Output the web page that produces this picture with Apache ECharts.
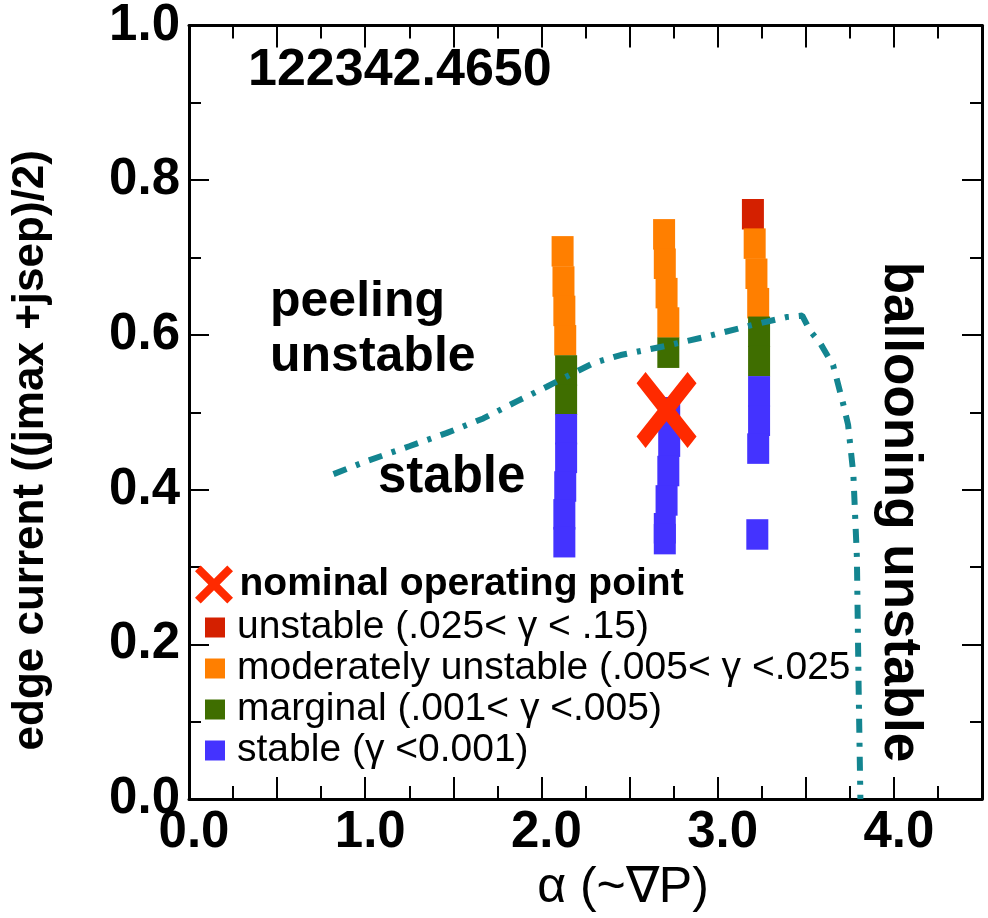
<!DOCTYPE html>
<html>
<head>
<meta charset="utf-8">
<script src="https://cdn.jsdelivr.net/npm/echarts@6/dist/echarts.min.js"></script>
<style>
html,body{margin:0;padding:0;background:#fff;}
#chart{width:988px;height:918px;}
</style>
</head>
<body>
<div id="chart"></div>
<script>
// ---- data ----
const seriesNames = [
  'nominal operating point',
  'unstable (.025< γ < .15)',
  'moderately unstable (.005< γ <.025',
  'marginal (.001< γ <.005)',
  'stable (γ <0.001)'
];
const nominalPoint = [[2.71, 0.503]];
const unstablePts = [[3.20, 0.756]];
const moderatePts = [
  [2.12, 0.708], [2.125, 0.669], [2.13, 0.631], [2.135, 0.593],
  [2.696, 0.730], [2.70, 0.692], [2.71, 0.654], [2.72, 0.616],
  [3.21, 0.718], [3.22, 0.679], [3.23, 0.641]
];
const marginalPts = [
  [2.14, 0.554], [2.14, 0.516],
  [2.72, 0.577],
  [3.235, 0.604], [3.235, 0.566]
];
const stablePts = [
  [2.14, 0.478], [2.14, 0.441], [2.135, 0.404], [2.13, 0.368], [2.13, 0.332],
  [2.725, 0.500], [2.725, 0.462], [2.72, 0.424], [2.71, 0.386], [2.70, 0.350], [2.70, 0.336],
  [3.235, 0.527], [3.235, 0.489], [3.23, 0.453],
  [3.225, 0.342]
];
const boundaryPts = [
  [0.82, 0.420], [1.01, 0.437], [1.25, 0.456], [1.46, 0.473], [1.67, 0.492],
  [1.86, 0.514], [2.03, 0.533], [2.15, 0.547], [2.30, 0.564], [2.45, 0.574],
  [2.71, 0.586], [2.94, 0.598], [3.20, 0.613], [3.39, 0.623], [3.48, 0.625],
  [3.525, 0.605], [3.58, 0.590], [3.655, 0.561], [3.71, 0.513], [3.74, 0.484],
  [3.77, 0.420], [3.79, 0.313], [3.80, 0.143], [3.81, 0.0]
];
const xTickLabels = ['0.0', '1.0', '2.0', '3.0', '4.0'];
const yTickLabels = ['0.0', '0.2', '0.4', '0.6', '0.8', '1.0'];
const shotLabel = '122342.4650';
const regionLabels = ['peeling', 'unstable', 'stable', 'ballooning unstable'];
const xTitle = 'α (~∇P)';
const yTitle = 'edge current ((jmax +jsep)/2)';

// ---- style ----
const FONT = '"Liberation Sans", Arial, Helvetica, sans-serif';
const XPATH = 'path://M1.5,0 L5,3.5 L8.5,0 L10,1.5 L6.5,5 L10,8.5 L8.5,10 L5,6.5 L1.5,10 L0,8.5 L3.5,5 L0,1.5 Z';
const colors = {
  nominal: '#ff2a00', unstable: '#d42000', moderate: '#ff7f00',
  marginal: '#3f6e00', stable: '#4433ff', line: '#138590'
};
const rectSize = [22, 30.5];

function fmtX(v) {
  const r = Math.round(v);
  if (Math.abs(v - r) < 1e-6) {
    const s = r.toFixed(1);
    return xTickLabels.indexOf(s) >= 0 ? s : '';
  }
  return '';
}
function fmtY(v) {
  const s = v.toFixed(1);
  return yTickLabels.indexOf(s) >= 0 ? s : '';
}

const frameLine = { show: true, onZero: false, lineStyle: { color: '#000', width: 3 } };
const tickStyle = { color: '#000', width: 2 };

function xAxisCfg(pos, labels) {
  return {
    type: 'value', position: pos, min: 0, max: 4.5, interval: 0.5,
    axisLine: frameLine,
    axisTick: { show: true, inside: true, length: 22, lineStyle: tickStyle },
    minorTick: { show: true, splitNumber: 2, length: 13, lineStyle: tickStyle },
    splitLine: { show: false }, minorSplitLine: { show: false },
    axisLabel: labels ? {
      show: true, formatter: fmtX, color: '#000', fontSize: 51, fontWeight: 'bold',
      fontFamily: FONT, margin: 8, padding: [0, 0, 0, 10]
    } : { show: false }
  };
}
function yAxisCfg(pos, labels) {
  return {
    type: 'value', position: pos, min: 0, max: 1, interval: 0.2,
    axisLine: frameLine,
    axisTick: { show: true, inside: true, length: 20, lineStyle: tickStyle },
    minorTick: { show: true, splitNumber: 2, length: 12, lineStyle: tickStyle },
    splitLine: { show: false }, minorSplitLine: { show: false },
    axisLabel: labels ? {
      show: true, formatter: fmtY, color: '#000', fontSize: 51, fontWeight: 'bold',
      fontFamily: FONT, margin: 9
    } : { show: false }
  };
}

const xMain = xAxisCfg('bottom', true);
xMain.name = xTitle;
xMain.nameLocation = 'middle';
xMain.nameGap = 64;
xMain.nameTextStyle = { fontSize: 50, color: '#000', fontFamily: FONT, padding: [0, 0, 0, 75] };

const yMain = yAxisCfg('left', true);
yMain.name = yTitle;
yMain.nameLocation = 'middle';
yMain.nameRotate = 90;
yMain.nameGap = 136;
yMain.nameTextStyle = { fontSize: 44, fontWeight: 'bold', color: '#000', fontFamily: FONT, padding: [0, 76, 0, 0] };

function rectSeries(name, data, color) {
  return {
    name: name, type: 'scatter', data: data, symbol: 'rect', symbolSize: rectSize,
    itemStyle: { color: color, opacity: 1 }, xAxisIndex: 0, yAxisIndex: 0,
    emphasis: { disabled: true }, z: 2
  };
}

const chart = echarts.init(document.getElementById('chart'), null, { renderer: 'canvas' });
chart.setOption({
  animation: false,
  backgroundColor: '#fff',
  grid: { left: 189, right: 6, top: 19, bottom: 116, containLabel: false },
  xAxis: [xMain, xAxisCfg('top', false)],
  yAxis: [yMain, yAxisCfg('right', false)],
  legend: [
    {
      data: [{ name: seriesNames[0], icon: XPATH }],
      left: 195, top: 565, itemWidth: 41, itemHeight: 38, padding: 0,
      selectedMode: false,
      textStyle: { fontSize: 39, fontWeight: 'bold', color: '#000', fontFamily: FONT }
    },
    {
      data: seriesNames.slice(1).map(n => ({ name: n, icon: 'rect' })),
      orient: 'vertical', left: 205, top: 607, itemWidth: 20, itemHeight: 20, itemGap: 0,
      padding: 0, selectedMode: false,
      textStyle: { fontSize: 39, lineHeight: 41, color: '#000', fontFamily: FONT, padding: [0, 0, 0, 7] }
    }
  ],
  graphic: [
    { type: 'text', left: 248, top: 45, style: { text: shotLabel, font: 'bold 52px ' + FONT, fill: '#000' } },
    { type: 'text', left: 270, top: 277, style: { text: regionLabels[0], font: 'bold 50px ' + FONT, fill: '#000' } },
    { type: 'text', left: 270, top: 332, style: { text: regionLabels[1], font: 'bold 50px ' + FONT, fill: '#000' } },
    { type: 'text', left: 378, top: 452, style: { text: regionLabels[2], font: 'bold 51px ' + FONT, fill: '#000' } },
    {
      type: 'text', x: 900, y: 512, rotation: -Math.PI / 2,
      style: { text: regionLabels[3], font: 'bold 53px ' + FONT, fill: '#000', align: 'center', verticalAlign: 'middle' }
    }
  ],
  series: [
    rectSeries(seriesNames[1], unstablePts, colors.unstable),
    rectSeries(seriesNames[2], moderatePts, colors.moderate),
    rectSeries(seriesNames[3], marginalPts, colors.marginal),
    rectSeries(seriesNames[4], stablePts, colors.stable),
    {
      name: 'boundary', type: 'line', data: boundaryPts, showSymbol: false, smooth: false,
      lineStyle: { color: colors.line, width: 6, type: [14, 10, 4, 10] },
      xAxisIndex: 0, yAxisIndex: 0, z: 3, silent: true
    },
    {
      name: seriesNames[0], type: 'scatter', data: nominalPoint, symbol: XPATH,
      symbolSize: [60, 76], itemStyle: { color: colors.nominal, opacity: 1 },
      xAxisIndex: 0, yAxisIndex: 0, z: 4
    }
  ]
});
</script>
</body>
</html>
